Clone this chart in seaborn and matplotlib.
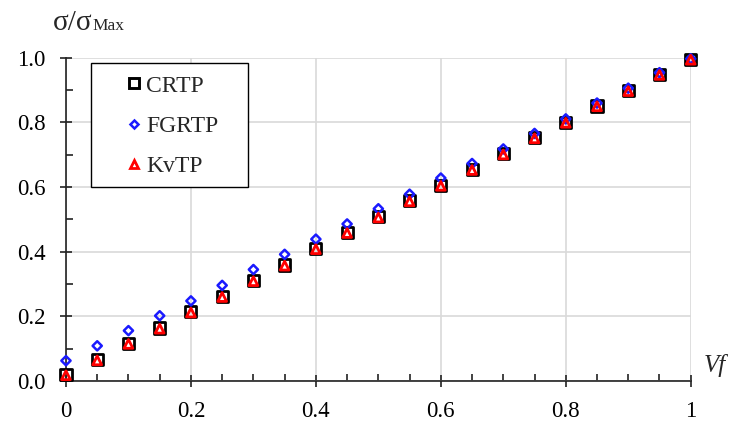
import matplotlib
matplotlib.use("Agg")
import matplotlib.pyplot as plt
from matplotlib.lines import Line2D
from matplotlib.patches import Rectangle
import seaborn as sns
import pandas as pd

# Fibre volume fraction
vf = [0.00, 0.05, 0.10, 0.15, 0.20, 0.25, 0.30, 0.35, 0.40, 0.45, 0.50,
      0.55, 0.60, 0.65, 0.70, 0.75, 0.80, 0.85, 0.90, 0.95, 1.00]

# Normalised strength sigma / sigma_max for each model
crtp = [0.020, 0.066, 0.117, 0.164, 0.214, 0.262, 0.311, 0.359, 0.410, 0.460,
        0.508, 0.558, 0.606, 0.655, 0.703, 0.753, 0.800, 0.851, 0.898, 0.948, 0.995]
fgrtp = [0.063, 0.109, 0.156, 0.202, 0.248, 0.296, 0.345, 0.392, 0.439, 0.486,
         0.533, 0.578, 0.628, 0.673, 0.718, 0.766, 0.811, 0.860, 0.906, 0.954, 0.997]
kvtp = [0.018, 0.064, 0.115, 0.162, 0.212, 0.260, 0.309, 0.357, 0.408, 0.458,
        0.506, 0.556, 0.604, 0.653, 0.701, 0.751, 0.799, 0.850, 0.897, 0.947, 0.994]

series_names = ["CRTP", "FGRTP", "KvTP"]
x_ticks = [0, 0.2, 0.4, 0.6, 0.8, 1.0]
x_tick_labels = ["0", "0.2", "0.4", "0.6", "0.8", "1"]
y_ticks = [0.0, 0.2, 0.4, 0.6, 0.8, 1.0]
y_tick_labels = ["0.0", "0.2", "0.4", "0.6", "0.8", "1.0"]

df = pd.DataFrame({
    "Vf": vf * 3,
    "ratio": crtp + fgrtp + kvtp,
    "model": [series_names[0]] * len(vf) + [series_names[1]] * len(vf) + [series_names[2]] * len(vf),
})

sns.set_theme(style="white")
plt.rcParams["font.family"] = ["Liberation Serif", "DejaVu Serif"]

fig = plt.figure(figsize=(7.29, 4.22), dpi=100)
ax = fig.add_axes([0.0905, 0.097, 0.857, 0.766])

styles = {
    "CRTP": dict(marker="s", s=64, edgecolor="black", linewidth=2.0, ms=7.6, lw_leg=2.1),
    "FGRTP": dict(marker="D", s=22, edgecolor="#1a1aff", linewidth=1.8, ms=4.4, lw_leg=1.8),
    "KvTP": dict(marker="^", s=40, edgecolor="#ff0000", linewidth=2.0, ms=6.0, lw_leg=2.0),
}

for name in series_names:
    sub = df[df["model"] == name]
    st = styles[name]
    sns.scatterplot(data=sub, x="Vf", y="ratio", ax=ax, marker=st["marker"], s=st["s"],
                    facecolor="none", edgecolor=st["edgecolor"], linewidth=st["linewidth"],
                    clip_on=False, zorder=3, legend=False)
    ax.collections[-1].set_facecolor("none")

ax.set_xlim(0, 1)
ax.set_ylim(0, 1)
ax.set_xticks(x_ticks)
ax.set_xticklabels(x_tick_labels)
ax.set_yticks(y_ticks)
ax.set_yticklabels(y_tick_labels)
ax.set_xticks([i * 0.05 for i in range(21)], minor=True)
ax.set_yticks([i * 0.1 for i in range(11)], minor=True)
ax.set_xlabel("")
ax.set_ylabel("")

ax.grid(True, which="major", color="#d9d9d9", linewidth=1.2)
ax.set_axisbelow(True)
for side in ("top", "right"):
    ax.spines[side].set_visible(False)
for side in ("left", "bottom"):
    ax.spines[side].set_color("#222222")
    ax.spines[side].set_linewidth(1.2)

ax.tick_params(axis="both", which="major", direction="inout", length=9, width=1.2,
               color="#222222", labelsize=16.5, labelcolor="black", left=True, bottom=True)
ax.tick_params(axis="both", which="minor", direction="in", length=5, width=1.2,
               color="#222222", left=True, bottom=True)
ax.tick_params(axis="x", which="major", pad=9.5)
ax.tick_params(axis="y", which="major", pad=10)

# Legend: framed box with compact handles
frame = Rectangle((0.04, 0.600), 0.251, 0.384, transform=ax.transAxes,
                  facecolor="white", edgecolor="black", linewidth=1.0, zorder=4)
ax.add_patch(frame)
handles = [Line2D([], [], linestyle="none", marker=styles[n]["marker"],
                  markersize=styles[n]["ms"], markerfacecolor="none",
                  markeredgecolor=styles[n]["edgecolor"],
                  markeredgewidth=styles[n]["lw_leg"]) for n in series_names]
leg = ax.legend(handles, series_names, loc="upper left",
                bbox_to_anchor=((124.5 - 66) / 625, (381 - 75) / 323.3),
                borderaxespad=0, frameon=False, fontsize=17,
                handletextpad=0.11, labelspacing=0.8, borderpad=0,
                handlelength=0.8)
leg.set_zorder(5)

ax.text((715 - 66) / 625, (381 - 372) / 323.3, "Vf", transform=ax.transAxes,
        fontsize=18, style="italic", ha="center", va="baseline")

# y-axis title: sigma / sigma_Max
fig.canvas.draw()
renderer = fig.canvas.get_renderer()
t1 = fig.text(53 / 729, 1 - 30 / 422, "σ/σ", fontsize=21, ha="left", va="baseline")
bb = t1.get_window_extent(renderer=renderer)
fig.text(bb.x1 / fig.bbox.width, 1 - 30 / 422, "Max", fontsize=12.5, ha="left", va="baseline")

fig.savefig("out.png", dpi=100)
